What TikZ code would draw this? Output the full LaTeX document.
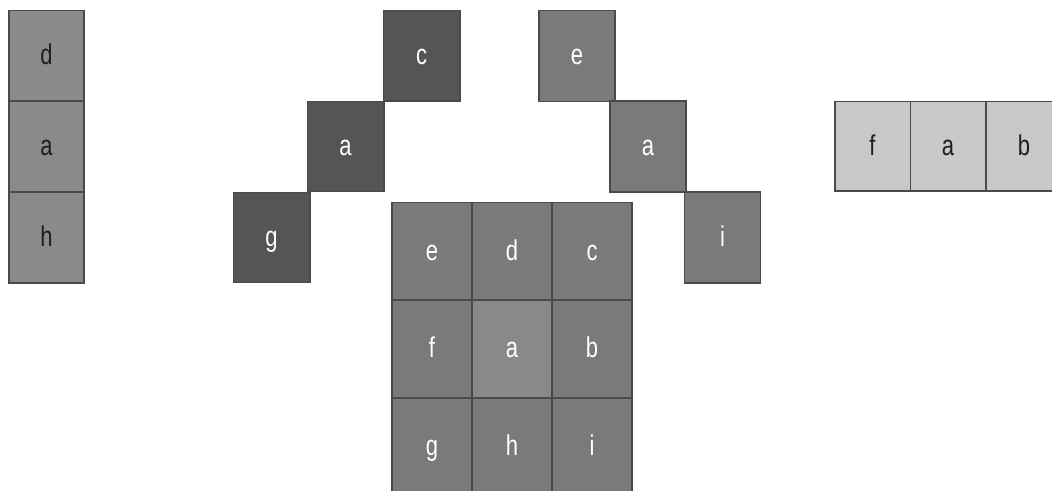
\documentclass[tikz,border=0pt]{standalone}
\usepackage{fontspec}
\usepackage{graphicx}
\setmainfont{Liberation Sans}
\definecolor{edgegray}{HTML}{4A4A4A}
\definecolor{colgray}{HTML}{8A8A8A}
\definecolor{darkgray}{HTML}{555555}
\definecolor{midgray}{HTML}{7A7A7A}
\definecolor{centergray}{HTML}{898989}
\definecolor{lightgray}{HTML}{C8C8C8}
\definecolor{textdark}{HTML}{1E1E1E}
\newcommand\lbl[1]{\scalebox{1}[1.3]{#1}}
\begin{document}
\begin{tikzpicture}[x=0.75pt,y=-0.75pt,
  cell/.style={draw=edgegray,line width=1pt,inner sep=0pt,outer sep=0pt,
    font=\fontsize{16.5}{16.5}\selectfont,text height=1.3em,text depth=0pt,anchor=center},
  colcell/.style={cell,fill=colgray,text=textdark,minimum width=56.25pt,minimum height=68.25pt},
  darkcell/.style={cell,fill=darkgray,text=white,minimum width=57.5pt,minimum height=67.75pt},
  gridcell/.style={cell,fill=midgray,text=white,minimum width=60pt,minimum height=73pt},
  diagcell/.style={cell,fill=midgray,text=white,minimum width=57pt,minimum height=68.25pt},
  rowcell/.style={cell,fill=lightgray,text=textdark,minimum width=56.5pt,minimum height=67pt}]
\useasboundingbox (0,0) rectangle (1052,491);
\clip (0,0) rectangle (1052,491);
% left column
\node[colcell] (ld) at (46.5,56) {\lbl{d}};
\node[colcell] (la) at (46.5,146.5) {\lbl{a}};
\node[colcell] (lh) at (46.5,237.5) {\lbl{h}};
% dark diagonal
\node[darkcell] (dc) at (421.5,56) {\lbl{c}};
\node[darkcell] (da) at (345.5,146.5) {\lbl{a}};
\node[darkcell] (dg) at (271.5,237.5) {\lbl{g}};
% right diagonal
\node[diagcell] (re) at (577,56) {\lbl{e}};
\node[diagcell] (ra) at (648,146.5) {\lbl{a}};
\node[diagcell] (ri) at (722.5,237.5) {\lbl{i}};
% right row
\node[rowcell] (wf) at (872.5,146.5) {\lbl{f}};
\node[rowcell] (wa) at (948,146.5) {\lbl{a}};
\node[rowcell] (wb) at (1024,146.5) {\lbl{b}};
% center grid
\node[gridcell] (ge) at (432,251.5) {\lbl{e}};
\node[gridcell] (gd) at (512,251.5) {\lbl{d}};
\node[gridcell] (gc) at (592,251.5) {\lbl{c}};
\node[gridcell] (gf) at (432,349) {\lbl{f}};
\node[gridcell,fill=centergray] (ga) at (512,349) {\lbl{a}};
\node[gridcell] (gb) at (592,349) {\lbl{b}};
\node[gridcell] (gg) at (432,446.5) {\lbl{g}};
\node[gridcell] (gh) at (512,446.5) {\lbl{h}};
\node[gridcell] (gi) at (592,446.5) {\lbl{i}};
\end{tikzpicture}
\end{document}
